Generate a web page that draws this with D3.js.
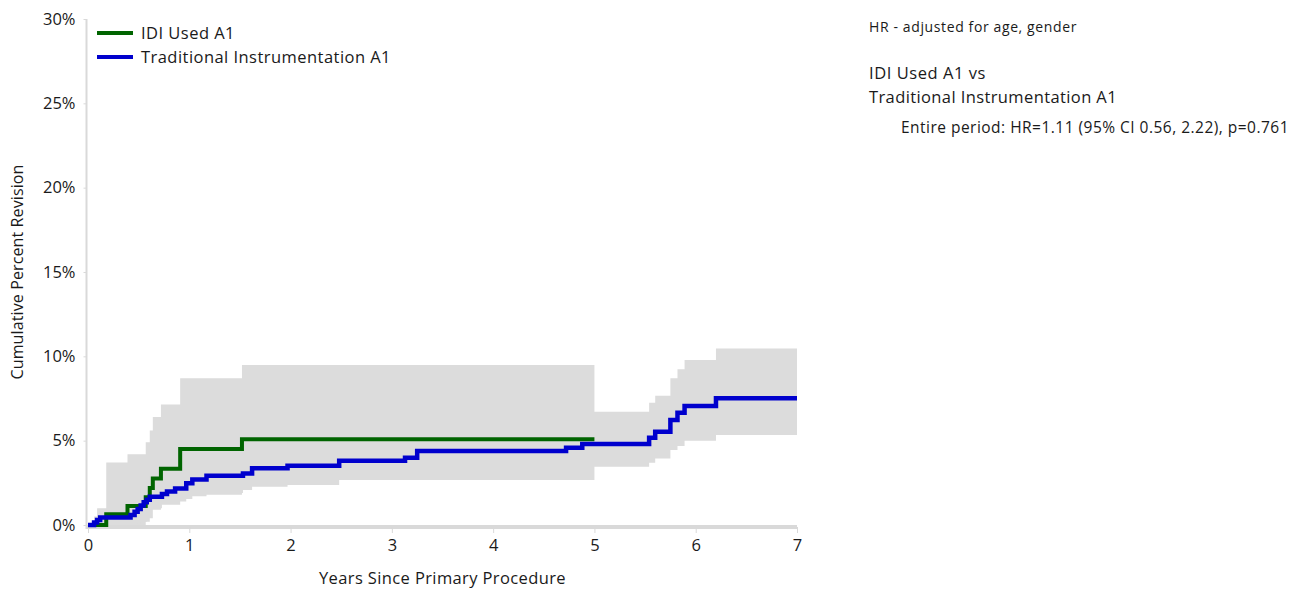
<!DOCTYPE html>
<html>
<head>
<meta charset="utf-8">
<script src="https://cdn.jsdelivr.net/npm/d3@7"></script>
<style>
  html, body { margin: 0; padding: 0; background: #ffffff; }
  svg { display: block; font-family: "Open Sans", "Noto Sans", sans-serif; }
  svg text { font-family: "Open Sans", "Noto Sans", sans-serif; }
</style>
</head>
<body>
<svg id="chart" width="1300" height="589"></svg>
<script>
// ---------- data ----------
const seriesNames = ["IDI Used A1", "Traditional Instrumentation A1"];

const idiTimes  = [0, 0.18, 0.39, 0.57, 0.61, 0.64, 0.72, 0.91, 1.52, 5.0];
const idiValues = [0, 0.63, 1.12, 1.65, 2.2, 2.75, 3.33, 4.5, 5.08, 5.08];
const idiUpper  = [0, 3.7, 4.2, 4.9, 5.6, 6.4, 7.15, 8.7, 9.48, 9.48];
const idiLower  = [0, 0, 0, 0.2, 0.4, 0.9, 1.2, 1.8, 2.67, 2.67];

const tradTimes  = [0, 0.06, 0.09, 0.12, 0.42, 0.46, 0.49, 0.52, 0.55, 0.58, 0.61, 0.73, 0.78, 0.86, 0.97, 1.03, 1.17, 1.53, 1.62, 1.97, 2.48, 3.13, 3.25, 4.72, 4.88, 5.54, 5.6, 5.75, 5.82, 5.89, 6.2, 7.0];
const tradValues = [0, 0.15, 0.3, 0.45, 0.6, 0.78, 0.95, 1.15, 1.35, 1.5, 1.68, 1.84, 1.98, 2.17, 2.47, 2.7, 2.92, 3.05, 3.36, 3.51, 3.81, 3.99, 4.39, 4.58, 4.8, 5.18, 5.53, 6.22, 6.66, 7.05, 7.51, 7.51];
const tradUpper  = [0, 0.5, 1.0, 1.0, 1.3, 1.6, 1.9, 2.2, 2.5, 2.7, 2.9, 3.1, 3.3, 3.5, 3.85, 4.1, 4.35, 4.5, 4.8, 4.95, 5.25, 5.45, 5.9, 6.1, 6.72, 7.25, 7.66, 8.7, 9.23, 9.78, 10.47, 10.47];
const tradLower  = [0, 0, 0, 0, 0, 0.05, 0.1, 0.15, 0.2, 0.5, 1.0, 1.24, 1.3, 1.4, 1.54, 1.7, 1.9, 2.07, 2.27, 2.37, 2.75, 2.9, 3.2, 3.3, 3.46, 3.69, 3.95, 4.45, 4.68, 5.0, 5.33, 5.33];

const xTicks = [0, 1, 2, 3, 4, 5, 6, 7];
const yTicks = [0, 5, 10, 15, 20, 25, 30];

const xTitle = "Years Since Primary Procedure";
const yTitle = "Cumulative Percent Revision";
const noteHeader = "HR - adjusted for age, gender";
const noteTitle = ["IDI Used A1 vs", "Traditional Instrumentation A1"];
const noteDetail = "Entire period: HR=1.11 (95% CI 0.56, 2.22), p=0.761";

// ---------- style ----------
const colors = ["#006400", "#0000cd"];
const bandColor = "#dcdcdc";
const axisColor = "#d9d9d9";
const textColor = "#1a1a1a";

const svg = d3.select("#chart");
const x = d3.scaleLinear().domain([0, 7]).range([88, 797]);
const y = d3.scaleLinear().domain([0, 30]).range([525, 19]);

// stretch text to a target width with letter spacing
function fit(sel, size, target) {
  sel.style("font-size", size + "px").style("letter-spacing", null);
  const node = sel.node();
  const w = node.getComputedTextLength();
  const n = node.textContent.length;
  if (target && n > 1) sel.style("letter-spacing", ((target - w) / n) + "px");
  return sel;
}

function rows(t, v, lo, hi) {
  return t.map((d, i) => ({ t: d, v: v[i], lo: lo[i], hi: hi[i] }));
}
const idi = rows(idiTimes, idiValues, idiLower, idiUpper);
const trad = rows(tradTimes, tradValues, tradLower, tradUpper);

const area = d3.area().curve(d3.curveStepAfter)
  .x(d => x(d.t)).y0(d => y(d.lo)).y1(d => y(d.hi));
const line = d3.line().curve(d3.curveStepAfter)
  .x(d => x(d.t)).y(d => y(d.v));

// bands
svg.append("path").datum(idi).attr("d", area).attr("fill", bandColor);
svg.append("path").datum(trad).attr("d", area).attr("fill", bandColor);

// axes
const yAxis = svg.append("g").attr("transform", "translate(86.5,0)")
  .call(d3.axisLeft(y).tickValues(yTicks).tickFormat(d => d + "%").tickSize(3).tickPadding(8));
yAxis.attr("font-family", null).attr("font-size", null);
yAxis.select(".domain").attr("stroke", axisColor).attr("stroke-width", 2).attr("d", `M0,${y(30)}V${y(0) + 4}`);
yAxis.selectAll(".tick line").attr("stroke", axisColor);
yAxis.selectAll(".tick text").attr("fill", textColor).style("font-size", "16.5px");

const xAxis = svg.append("g").attr("transform", "translate(0,527)")
  .call(d3.axisBottom(x).tickValues(xTicks).tickFormat(d3.format("d")).tickSize(6).tickPadding(6));
xAxis.attr("font-family", null).attr("font-size", null);
xAxis.select(".domain").attr("stroke", axisColor).attr("stroke-width", 4).attr("d", `M86,0H${x(7)}`);
xAxis.selectAll(".tick line").attr("stroke", axisColor);
xAxis.selectAll(".tick text").attr("fill", textColor).style("font-size", "16.5px");

// lines
svg.append("path").datum(idi).attr("d", line).attr("fill", "none")
  .attr("stroke", colors[0]).attr("stroke-width", 4);
svg.append("path").datum(trad).attr("d", line).attr("fill", "none")
  .attr("stroke", colors[1]).attr("stroke-width", 4.5);

// axis titles
fit(svg.append("text").attr("x", (x(0) + x(7)) / 2).attr("y", 578).attr("dy", "0.35em").attr("text-anchor", "middle")
  .attr("fill", textColor).text(xTitle), 16.5, 247);
fit(svg.append("text").attr("transform", `translate(17,${y(15)}) rotate(-90)`).attr("dy", "0.35em").attr("text-anchor", "middle")
  .attr("fill", textColor).text(yTitle), 16, 215);

// legend
const legendTargets = [94, 250];
const lg = svg.append("g");
seriesNames.forEach((name, i) => {
  const yy = 33 + i * 24;
  lg.append("line").attr("x1", 97).attr("x2", 133).attr("y1", yy).attr("y2", yy)
    .attr("stroke", colors[i]).attr("stroke-width", 4);
  fit(lg.append("text").attr("x", 141).attr("y", yy).attr("dy", "0.35em")
    .attr("fill", textColor).text(name), 16.5, legendTargets[i]);
});

// notes
fit(svg.append("text").attr("x", 869).attr("y", 27).attr("dy", "0.35em")
  .attr("fill", textColor).text(noteHeader), 14, 208);
const titleTargets = [117, 248];
noteTitle.forEach((s, i) => {
  fit(svg.append("text").attr("x", 869).attr("y", 73 + i * 24).attr("dy", "0.35em")
    .attr("fill", textColor).text(s), 16.5, titleTargets[i]);
});
fit(svg.append("text").attr("x", 901).attr("y", 128).attr("dy", "0.35em")
  .attr("fill", textColor).text(noteDetail), 15.5, 388);
</script>
</body>
</html>
